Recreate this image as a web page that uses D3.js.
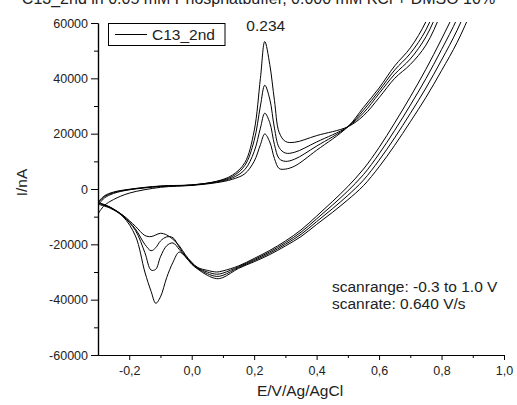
<!DOCTYPE html>
<html>
<head>
<meta charset="utf-8">
<script src="https://cdn.jsdelivr.net/npm/d3@7"></script>
<style>
  body { margin: 0; background: #fff; }
  svg { display: block; font-family: "Liberation Sans", Arial, sans-serif; }
</style>
</head>
<body>
<svg id="chart" width="517" height="405"></svg>
<script>
// Potential grid of the anodic (forward) sweep, V vs Ag/AgCl
const fwdE = [-0.30, -0.28, -0.25, -0.20, -0.10, 0.00, 0.08, 0.13, 0.17, 0.20, 0.22, 0.234, 0.25, 0.265,
              0.28, 0.30, 0.33, 0.40, 0.50, 0.55, 0.60, 0.65, 0.70, 0.75, 0.80, 0.85, 0.90, 1.00];
// Potential grid of the cathodic (return) sweep
const revE = [1.00, 0.95, 0.90, 0.85, 0.80, 0.75, 0.70, 0.65, 0.60, 0.55, 0.50, 0.45, 0.40, 0.35, 0.30,
              0.25, 0.20, 0.15, 0.10, 0.08, 0.05, 0.02, 0.00, -0.02, -0.04, -0.06, -0.08, -0.10, -0.115,
              -0.13, -0.15, -0.18, -0.22, -0.26, -0.30];

// Current in nA, one array per cycle and sweep direction
const cycle1Fwd = [-4800, -2500, -1100, -100, 1100, 1500, 2800, 5000, 9500, 21000, 40000, 53300, 45000, 32000,
                   20500, 17200, 16900, 19300, 22500, 26500, 33000, 40000, 45000, 52000, 64000, 80000, 98000, 135000];
const cycle2Fwd = [-5200, -2800, -1300, -200, 1000, 1450, 2700, 4500, 8500, 17500, 30000, 37500, 32500, 22000,
                   15000, 13000, 13300, 17000, 22500, 27500, 34500, 41500, 47000, 55000, 67500, 83000, 101000, 138000];
const cycle3Fwd = [-6000, -3300, -1600, -300, 900, 1400, 2500, 4000, 7000, 13500, 22000, 27400, 24000, 16000,
                   11000, 10000, 10800, 15500, 22500, 28500, 35500, 43000, 49000, 57500, 71000, 87000, 105000, 142000];
const cycle4Fwd = [-9000, -6000, -3800, -1500, 600, 1300, 2300, 3500, 5500, 10000, 16000, 19900, 17000, 11000,
                   7400, 7200, 8300, 14000, 22500, 29500, 36500, 44500, 51000, 60500, 75000, 91000, 109000, 146000];

const cycle1Rev = [95500, 79000, 65500, 53000, 42800, 33100, 24300, 15800, 8000, 1200, -3900, -8500, -12800, -17200, -20600,
                   -23700, -26300, -28700, -32000, -32400, -31200, -29000, -27200, -24500, -22800, -26500, -32000, -39000, -41300,
                   -37000, -30000, -17000, -10000, -7000, -5500];
const cycle2Rev = [102500, 85000, 70500, 57400, 46600, 36500, 27300, 18500, 10400, 3200, -2300, -7200, -11800, -16400, -20000,
                   -23200, -25900, -28400, -31200, -31600, -30600, -28800, -27000, -24400, -21800, -19500, -20500, -24500, -29000,
                   -29300, -23000, -15000, -9800, -6700, -5000];
const cycle3Rev = [109500, 91000, 75500, 61600, 50400, 39900, 30300, 21200, 12700, 5200, -700, -5900, -10800, -15600, -19400,
                   -22700, -25500, -28100, -30400, -30800, -30000, -28600, -26700, -24200, -21000, -17600, -17300, -18800, -21200,
                   -22300, -20000, -14500, -9600, -6600, -4800];
const cycle4Rev = [116500, 97000, 80500, 66000, 54200, 43300, 33300, 23900, 15000, 7200, 900, -4600, -9800, -14800, -18800,
                   -22200, -25100, -27800, -29600, -30000, -29400, -28400, -26500, -23800, -20500, -18200, -16600, -16000, -16600,
                   -17200, -16800, -13500, -9500, -6800, -5000];

const yMajorTicks = [-60000, -40000, -20000, 0, 20000, 40000, 60000];
const yMinorTicks = [-50000, -30000, -10000, 10000, 30000, 50000];
const xMajorTicks = [-0.2, 0.0, 0.2, 0.4, 0.6, 0.8, 1.0];
const xMinorTicks = [-0.1, 0.1, 0.3, 0.5, 0.7, 0.9];

const titleText = "C13_2nd in 0.05 mM Phosphatbuffer, 0.000 mM KCl + DMSO 10%";
const legendText = "C13_2nd";
const peakLabel = "0.234";
const peakPotential = 0.234;
const noteLines = ["scanrange: -0.3 to 1.0 V", "scanrate: 0.640 V/s"];
const xTitle = "E/V/Ag/AgCl";
const yTitle = "I/nA";

const svg = d3.select("#chart");
const x = d3.scaleLinear().domain([-0.3, 1.0]).range([98, 504]);
const y = d3.scaleLinear().domain([-60000, 60000]).range([355, 23]);

// chart title (partly above the top edge)
svg.append("text").attr("x", 258.5).attr("y", 4).attr("text-anchor", "middle")
  .attr("font-size", 16).attr("fill", "#222").text(titleText);

// clip region of the plot
svg.append("clipPath").attr("id", "plotClip").append("rect")
  .attr("x", x(-0.3)).attr("y", y(60000) - 1)
  .attr("width", x(1.0) - x(-0.3)).attr("height", y(-60000) - y(60000) + 1);

const cycles = [
  [cycle1Fwd, cycle1Rev],
  [cycle2Fwd, cycle2Rev],
  [cycle3Fwd, cycle3Rev],
  [cycle4Fwd, cycle4Rev]
];

const line = d3.line()
  .x(d => x(d[0])).y(d => y(d[1]))
  .curve(d3.curveCatmullRom.alpha(0.5));

const plot = svg.append("g").attr("clip-path", "url(#plotClip)");
cycles.forEach(([fw, rv]) => {
  const pts = fwdE.map((e, i) => [e, fw[i]]).concat(revE.map((e, i) => [e, rv[i]]));
  plot.append("path").attr("d", line(pts))
    .attr("fill", "none").attr("stroke", "#000").attr("stroke-width", 1);
});

// axes
const fmtX = d => d3.format(".1f")(d).replace(".", ",").replace("−", "-");
const fmtY = d => String(d);

function styleAxis(g) {
  g.selectAll("path").attr("stroke", "#000").attr("stroke-width", 1.2);
  g.selectAll("line").attr("stroke", "#000").attr("stroke-width", 1);
  g.selectAll("text").attr("fill", "#222").attr("font-size", 12.5)
    .attr("font-family", "'Liberation Sans', Arial, sans-serif");
}

svg.append("g").attr("transform", `translate(0,${y(-60000)})`)
  .call(d3.axisBottom(x).tickValues(xMinorTicks).tickSize(3).tickFormat("").tickSizeOuter(0))
  .call(styleAxis);
svg.append("g").attr("transform", `translate(0,${y(-60000)})`)
  .call(d3.axisBottom(x).tickValues(xMajorTicks).tickSize(5).tickPadding(6).tickFormat(fmtX).tickSizeOuter(0))
  .call(styleAxis);

svg.append("g").attr("transform", `translate(${x(-0.3)},0)`)
  .call(d3.axisLeft(y).tickValues(yMinorTicks).tickSize(4).tickFormat("").tickSizeOuter(0))
  .call(styleAxis);
svg.append("g").attr("transform", `translate(${x(-0.3)},0)`)
  .call(d3.axisLeft(y).tickValues(yMajorTicks).tickSize(7).tickPadding(3).tickFormat(fmtY).tickSizeOuter(0))
  .call(styleAxis);

// axis titles
svg.append("text").attr("x", 300).attr("y", 396).attr("text-anchor", "middle")
  .attr("font-size", 15.5).attr("fill", "#222").text(xTitle);
svg.append("text").attr("transform", "translate(26.5,182.5) rotate(-90)")
  .attr("text-anchor", "middle").attr("font-size", 15.5).attr("fill", "#222").text(yTitle);

// legend
const lg = svg.append("g");
lg.append("rect").attr("x", 108.5).attr("y", 23.5).attr("width", 116.5).attr("height", 22)
  .attr("fill", "#fff").attr("stroke", "#000").attr("stroke-width", 1);
lg.append("line").attr("x1", 115).attr("x2", 147).attr("y1", 34.5).attr("y2", 34.5)
  .attr("stroke", "#000").attr("stroke-width", 1);
lg.append("text").attr("x", 152).attr("y", 40).attr("font-size", 15.5).attr("fill", "#222").text(legendText);

// peak annotation
svg.append("text").attr("x", x(peakPotential) + 1).attr("y", 31).attr("text-anchor", "middle")
  .attr("font-size", 15.5).attr("fill", "#222").text(peakLabel);

// scan parameters
noteLines.forEach((t, i) => {
  svg.append("text").attr("x", 332).attr("y", 292 + i * 17).attr("font-size", 15.5)
    .attr("fill", "#222").text(t);
});
</script>
</body>
</html>
